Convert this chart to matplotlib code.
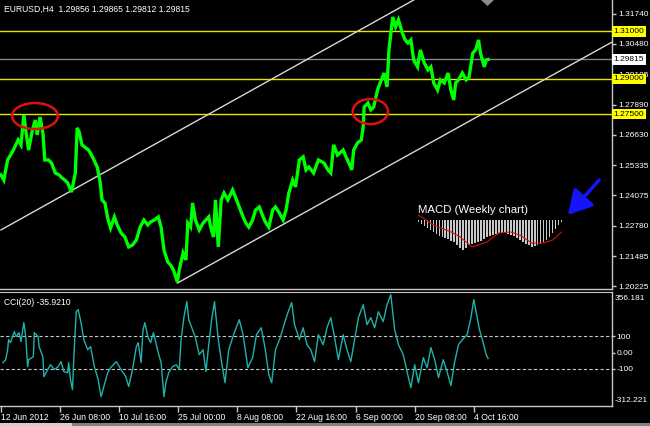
import matplotlib
matplotlib.use("Agg")
import matplotlib.pyplot as plt
from matplotlib.patches import Ellipse, Polygon, Rectangle
import matplotlib.transforms as mtrans

# ---------------- data ----------------
price_bar = [0, 3, 7, 13, 18, 21, 24, 26, 29, 33, 36, 38, 41, 44, 46, 50, 53, 57, 61, 64, 67, 70, 74, 78, 80, 82,
             85, 89, 92, 96, 101, 104, 106, 109, 112, 115, 119, 122, 126, 130, 134, 138, 142, 146, 150, 154, 157,
             161, 165, 168, 171, 175, 178, 181, 185, 187, 191, 194, 196, 199, 201, 204, 208, 212, 215, 218, 220,
             223, 225, 228, 231, 234, 238, 243, 246, 250, 254, 257, 260, 264, 267, 271, 275, 278, 281, 285, 288,
             292, 296, 299, 302, 306, 309, 313, 317, 320, 323, 328, 333, 339, 343, 346, 349, 353, 359, 362, 365,
             368, 370, 374, 378, 380, 381, 385, 388, 391, 395, 399, 402, 405, 407, 411, 414, 417, 421, 424, 427,
             430, 433, 437, 440, 444, 448, 451, 454, 458, 461, 465, 469, 472, 475, 477, 480, 484, 488, 491, 495,
             498, 501, 503, 507, 509, 511]
price_close = [1.2493, 1.2471, 1.2556, 1.2598, 1.2641, 1.2620, 1.2747, 1.2683, 1.2598, 1.2683, 1.2725, 1.2662,
               1.2738, 1.2670, 1.2556, 1.2556, 1.2543, 1.2501, 1.2493, 1.2480, 1.2471, 1.2459, 1.2420, 1.2501,
               1.2692, 1.2675, 1.2620, 1.2607, 1.2598, 1.2569, 1.2526, 1.2463, 1.2387, 1.2374, 1.2310, 1.2268,
               1.2315, 1.2281, 1.2247, 1.2230, 1.2188, 1.2196, 1.2217, 1.2272, 1.2302, 1.2281, 1.2294, 1.2302,
               1.2315, 1.2272, 1.2175, 1.2124, 1.2111, 1.2090, 1.2040, 1.2090, 1.2162, 1.2133, 1.2289, 1.2272,
               1.2374, 1.2302, 1.2260, 1.2289, 1.2302, 1.2315, 1.2272, 1.2230, 1.2387, 1.2188, 1.2387, 1.2416,
               1.2387, 1.2429, 1.2399, 1.2357, 1.2315, 1.2289, 1.2272, 1.2302, 1.2344, 1.2357, 1.2315, 1.2289,
               1.2272, 1.2344, 1.2357, 1.2332, 1.2302, 1.2344, 1.2416, 1.2471, 1.2442, 1.2556, 1.2569, 1.2514,
               1.2526, 1.2501, 1.2556, 1.2543, 1.2514, 1.2501, 1.2620, 1.2577, 1.2598, 1.2569, 1.2543, 1.2514,
               1.2598, 1.2628, 1.2641, 1.2696, 1.2780, 1.2797, 1.2768, 1.2780, 1.2852, 1.2895, 1.2924, 1.2865,
               1.3022, 1.3161, 1.3119, 1.3149, 1.3094, 1.3064, 1.3051, 1.3064, 1.2979, 1.2950, 1.3022, 1.2967,
               1.2937, 1.2950, 1.2882, 1.2852, 1.2895, 1.2882, 1.2924, 1.2852, 1.2810, 1.2882, 1.2895, 1.2924,
               1.2895, 1.2907, 1.3009, 1.3022, 1.3064, 1.3009, 1.2950, 1.2979, 1.29815]

cci_bar = [2, 5, 7, 8, 10, 14, 16, 19, 21, 24, 26, 28, 29, 34, 35, 39, 40, 44, 45, 49, 52, 56, 60, 63, 66, 70, 71,
           73, 75, 77, 79, 81, 84, 87, 91, 94, 98, 102, 105, 108, 112, 115, 121, 126, 131, 134, 138, 142, 144, 147,
           149, 151, 154, 157, 160, 165, 168, 171, 173, 176, 180, 184, 187, 189, 192, 195, 197, 201, 204, 208, 212,
           215, 218, 221, 224, 228, 231, 235, 239, 244, 250, 254, 259, 264, 268, 273, 277, 281, 284, 288, 293, 297,
           301, 305, 308, 313, 317, 321, 325, 329, 333, 338, 342, 346, 350, 354, 359, 363, 367, 371, 375, 380, 384,
           388, 392, 396, 401, 405, 409, 413, 417, 422, 426, 430, 434, 438, 443, 447, 451, 455, 459, 464, 468, 472,
           476, 480, 484, 489, 493, 496, 499, 502, 505, 509, 511]
cci_val = [-61, -43, 18, 80, 61, 129, 98, 123, 67, 184, 98, -86, -43, -25, 123, 98, 37, -25, -147, -104, -74, -104,
           -86, -55, -116, -123, -61, -166, -227, 37, 251, 264, 184, 80, 18, 37, -86, -166, -270, -208, -123, -92,
           -55, -104, -147, -208, -104, 37, 61, -61, 141, 184, 98, 61, 123, 0, -61, -270, -184, -123, -86, -74,
           -104, 80, 221, 313, 202, 141, 92, -12, 18, -116, 49, 202, 313, 80, -43, -184, 18, 110, 202, 110, -92,
           -31, 110, 153, 31, -135, -184, 18, 92, 172, 245, 307, 172, 80, 153, 49, 18, -55, 110, 49, 153, 215, 92,
           -43, 110, 18, -55, 80, 215, 294, 172, 215, 153, 251, 190, 294, 356, 141, 49, -12, -116, -215, -74, -184,
           -31, -92, 31, -43, -153, -43, -116, -202, -55, 49, 80, 110, 215, 325, 233, 141, 80, -12, -35.921]

price_ticks = [1.31740, 1.30480, 1.29185, 1.27890, 1.26630, 1.25335, 1.24075, 1.22780, 1.21485, 1.20225]
level_lines = [1.31000, 1.29000, 1.27500]
bid_price = 1.29815
cci_levels = [100, -100]
cci_max, cci_min = 356.181, -312.221

time_ticks = [0, 62, 124, 186, 248, 310, 372, 434, 496]
time_labels = ["12 Jun 2012", "26 Jun 08:00", "10 Jul 16:00", "25 Jul 00:00", "8 Aug 08:00",
               "22 Aug 16:00", "6 Sep 00:00", "20 Sep 08:00", "4 Oct 16:00"]

# channel lines (bar, price)
upper_channel = ([0, 433], [1.2260, 1.3233])
lower_channel = ([185, 641], [1.2035, 1.3055])

# weekly MACD inset (histogram and signal)
macd_hist = [-0.0002, -0.0004, -0.0006, -0.0008, -0.0010, -0.0012, -0.0014, -0.0016, -0.0017, -0.0018, -0.0019,
             -0.0021, -0.0022, -0.0025, -0.0028, -0.0030, -0.0028, -0.0025, -0.0024, -0.0023, -0.0022, -0.0021,
             -0.0019, -0.0017, -0.0016, -0.0015, -0.0014, -0.0013, -0.0013, -0.0013, -0.0014, -0.0015, -0.0016,
             -0.0018, -0.0020, -0.0022, -0.0024, -0.0025, -0.0027, -0.0026, -0.0025, -0.0024, -0.0022, -0.0020,
             -0.0017, -0.0013, -0.0009, -0.0005, -0.0002]
macd_sig_idx = [0, 5, 11, 14, 18, 23, 27, 31, 34, 38, 42, 45, 48]
macd_sig = [0.0005, -0.0005, -0.0012, -0.0017, -0.0027, -0.0022, -0.0013, -0.0012, -0.0015, -0.0023, -0.0023,
            -0.0020, -0.0012]

# ---------------- figure ----------------
W, H = 650, 426
fig = plt.figure(figsize=(W / 100, H / 100), dpi=100, facecolor="black")
FONT = "Liberation Sans"
plt.rcParams["font.family"] = [FONT, "DejaVu Sans"]
AXC = "#C8C8C8"
FS = 6.0

def fx(px):
    return px / W

def fy(py):
    return 1 - py / H

ax = fig.add_axes([0, fy(289), fx(612), fy(0) - fy(289)], facecolor="black")
axc = fig.add_axes([0, fy(406), fx(612), fy(292) - fy(406)], facecolor="black")

XL = (-1, 641)
for a in (ax, axc):
    a.set_xlim(*XL)
    for s in ("left", "top"):
        a.spines[s].set_visible(False)
    for s in ("right", "bottom"):
        a.spines[s].set_color(AXC)
        a.spines[s].set_linewidth(1)
axc.spines["top"].set_visible(True)
axc.spines["top"].set_color(AXC)

# main price panel
ax.set_ylim(1.2010, 1.3233)
ax.plot(price_bar, price_close, color="#00FF00", lw=2.4, solid_joinstyle="miter", zorder=3)
for lv in level_lines:
    ax.axhline(lv, color="#E6E600", lw=1, zorder=2)
ax.axhline(bid_price, color="#778899", lw=1, zorder=2)
ax.plot(*upper_channel, color="#D8D8D8", lw=1, zorder=2)
ax.plot(*lower_channel, color="#D8D8D8", lw=1, zorder=2)

ax.set_xticks([])
ax.yaxis.tick_right()
ax.set_yticks(price_ticks)
ax.set_yticklabels([f"{v:.5f}" for v in price_ticks])
ax.tick_params(axis="y", colors=AXC, labelcolor="white", length=3, width=1, pad=1.5, labelsize=FS)

blend = mtrans.blended_transform_factory(ax.transAxes, ax.transData)
for lv in level_lines:
    ax.text(1.003, lv, f"{lv:.5f}", transform=blend, ha="left", va="center", fontsize=FS, color="black",
            bbox=dict(facecolor="#FFFF00", edgecolor="none", pad=1.2), clip_on=False, zorder=10)
ax.text(1.003, bid_price, f"{bid_price:.5f}", transform=blend, ha="left", va="center", fontsize=FS,
        color="black", bbox=dict(facecolor="white", edgecolor="none", pad=1.2), clip_on=False, zorder=10)

ax.text(4 / 612, 1 - 9 / 289, "EURUSD,H4  1.29856 1.29865 1.29812 1.29815", transform=ax.transAxes,
        ha="left", va="center", color="white", fontsize=6.2)

# red ellipses
ax.add_patch(Ellipse((35.7, 1.2742), 48, 0.0110, fill=False, edgecolor="#E01010", lw=1.8, zorder=5))
ax.add_patch(Ellipse((387.5, 1.2761), 37, 0.0106, fill=False, edgecolor="#E01010", lw=1.8, zorder=5))

# CCI panel
axc.set_ylim(-327, 372)
axc.plot(cci_bar, cci_val, color="#20B2AA", lw=1, zorder=3)
for lv in cci_levels:
    axc.axhline(lv, color=AXC, lw=0.8, ls=(0, (3, 2)), zorder=2)
axc.yaxis.tick_right()
axc.set_yticks([100, 0, -100])
axc.set_yticklabels(["100", "0.00", "-100"])
axc.tick_params(axis="y", colors=AXC, labelcolor="white", length=2, width=1, pad=1, labelsize=FS)
cblend = mtrans.blended_transform_factory(axc.transAxes, axc.transData)
axc.text(1.004, cci_max, f"{cci_max:.3f}", transform=cblend, ha="left", va="top", fontsize=FS, color="white",
         clip_on=False)
axc.text(1.004, cci_min, f"{cci_min:.3f}", transform=cblend, ha="left", va="bottom", fontsize=FS,
         color="white", clip_on=False)
axc.text(4 / 612, 0.905, "CCI(20) -35.9210", transform=axc.transAxes, ha="left", va="center", color="white",
         fontsize=6.2)

axc.set_xticks(time_ticks)
axc.set_xticklabels(time_labels)
axc.tick_params(axis="x", colors=AXC, labelcolor="white", length=4, width=1, pad=1, labelsize=6.2)
for t in axc.get_xticklabels():
    t.set_ha("left")

# MACD weekly inset
axm = fig.add_axes([fx(417), fy(252), fx(563) - fx(417), fy(212) - fy(252)])
axm.set_facecolor("none")
axm.axis("off")
axm.bar(range(len(macd_hist)), macd_hist, width=0.55, color="#C8C8C8", edgecolor="none")
axm.plot(macd_sig_idx, macd_sig, color="#D01010", lw=0.8)
axm.set_xlim(-0.5, len(macd_hist) - 0.5)
axm.set_ylim(-0.0032, 0.0008)
fig.text(fx(418), fy(210), "MACD (Weekly chart)", ha="left", va="center", color="white", fontsize=8.2,
         family=FONT)

# blue arrow
fig.add_artist(matplotlib.patches.FancyArrowPatch((fx(601), fy(178)), (fx(566), fy(217)),
                                                  transform=fig.transFigure,
                                                  arrowstyle="-|>,head_width=0.45,head_length=0.8",
                                                  mutation_scale=18, color="#1414FF", lw=2.5))

# chart shift marker
fig.add_artist(Polygon([(fx(481), fy(0)), (fx(494), fy(0)), (fx(487.5), fy(6))], closed=True,
                       transform=fig.transFigure, facecolor="#8C8C8C", edgecolor="none"))
# bottom window border
fig.add_artist(Rectangle((0, 0), 1, fy(423), transform=fig.transFigure, facecolor="#808080", edgecolor="none"))
fig.add_artist(Rectangle((0, 0), fx(72), fy(423), transform=fig.transFigure, facecolor="#D4D0C8",
                         edgecolor="none"))

fig.savefig("out.png", dpi=100, facecolor="black")
